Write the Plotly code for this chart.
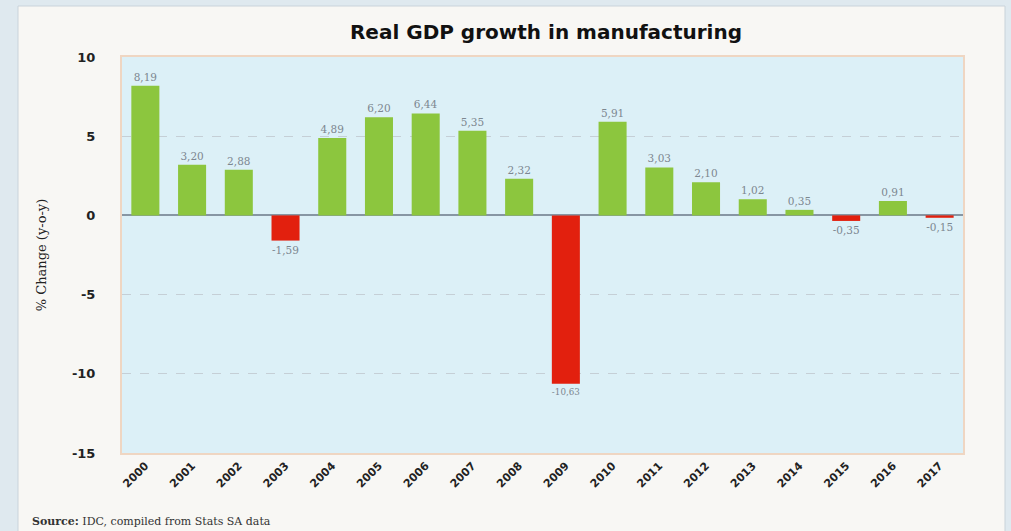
import plotly.graph_objects as go

years = ["2000", "2001", "2002", "2003", "2004", "2005", "2006", "2007", "2008",
         "2009", "2010", "2011", "2012", "2013", "2014", "2015", "2016", "2017"]
growth = [8.19, 3.20, 2.88, -1.59, 4.89, 6.20, 6.44, 5.35, 2.32,
          -10.63, 5.91, 3.03, 2.10, 1.02, 0.35, -0.35, 0.91, -0.15]
y_ticks = [10, 5, 0, -5, -10, -15]

W, H = 1011, 531
L, R, T, B = 122, 963, 57, 453

pos_color = "#8cc63e"
neg_color = "#e2200e"
colors = [pos_color if v >= 0 else neg_color for v in growth]
labels = [f"{v:.2f}".replace(".", ",") for v in growth]

fig = go.Figure()
fig.add_trace(go.Bar(
    x=years, y=growth, marker=dict(color=colors, line=dict(width=0)),
    text=labels, textposition="outside", cliponaxis=False,
    textfont=dict(family="DejaVu Serif, serif", size=10.5, color="#7d8790"),
    hoverinfo="x+y",
))

def px_x(p):
    return (p - L) / (R - L)

def px_y(p):
    return (B - p) / (B - T)

# panel background
fig.add_shape(type="rect", xref="paper", yref="paper",
              x0=px_x(18), x1=px_x(1005), y0=px_y(540), y1=px_y(6),
              fillcolor="#f8f7f4", line=dict(color="#c9d3da", width=1), layer="below")
# plot area background
fig.add_shape(type="rect", xref="paper", yref="paper",
              x0=0, x1=1, y0=0, y1=1,
              fillcolor="#dcf0f7", line=dict(width=0), layer="below")

fig.add_annotation(
    xref="paper", yref="paper", x=px_x(30), y=px_y(521), xanchor="left", yanchor="middle",
    showarrow=False, align="left",
    text="<b>Source:</b> IDC, compiled from Stats SA data",
    font=dict(family="DejaVu Serif, serif", size=11, color="#333333"),
)

fig.update_layout(
    width=W, height=H,
    margin=dict(l=L, r=W - R, t=T, b=H - B, autoexpand=False),
    paper_bgcolor="#dfe9ef",
    plot_bgcolor="rgba(0,0,0,0)",
    showlegend=False,
    bargap=0.4,
    title=dict(text="<b>Real GDP growth in manufacturing</b>",
               x=546 / W, xref="container", xanchor="center",
               y=1 - 32 / H, yref="container", yanchor="middle",
               font=dict(family="DejaVu Sans, sans-serif", size=20, color="#111111")),
    xaxis=dict(
        tickangle=-45, tickfont=dict(family="DejaVu Sans, sans-serif", size=11, color="#222222", weight="bold"),
        showline=True, mirror=True, linecolor="#efd6c2", linewidth=2,
        showgrid=False, ticks="",
    ),
    yaxis=dict(
        range=[-15, 10], tickvals=y_ticks, ticktext=[str(v) for v in y_ticks],
        tickfont=dict(family="DejaVu Sans, sans-serif", size=13, color="#222222", weight="bold"),
        ticklabelstandoff=22,
        showline=True, mirror=True, linecolor="#efd6c2", linewidth=2,
        showgrid=True, gridcolor="#c5cfd6", griddash="dash", gridwidth=1,
        zeroline=True, zerolinecolor="#8796a3", zerolinewidth=1.5,
        title=dict(text="% Change (y-o-y)", standoff=22,
                   font=dict(family="DejaVu Serif, serif", size=13, color="#222222")),
    ),
)

fig.write_html("out.html", config={"displayModeBar": False},
               post_script="document.body.style.margin='0px';document.body.style.background='#dfe9ef';")
